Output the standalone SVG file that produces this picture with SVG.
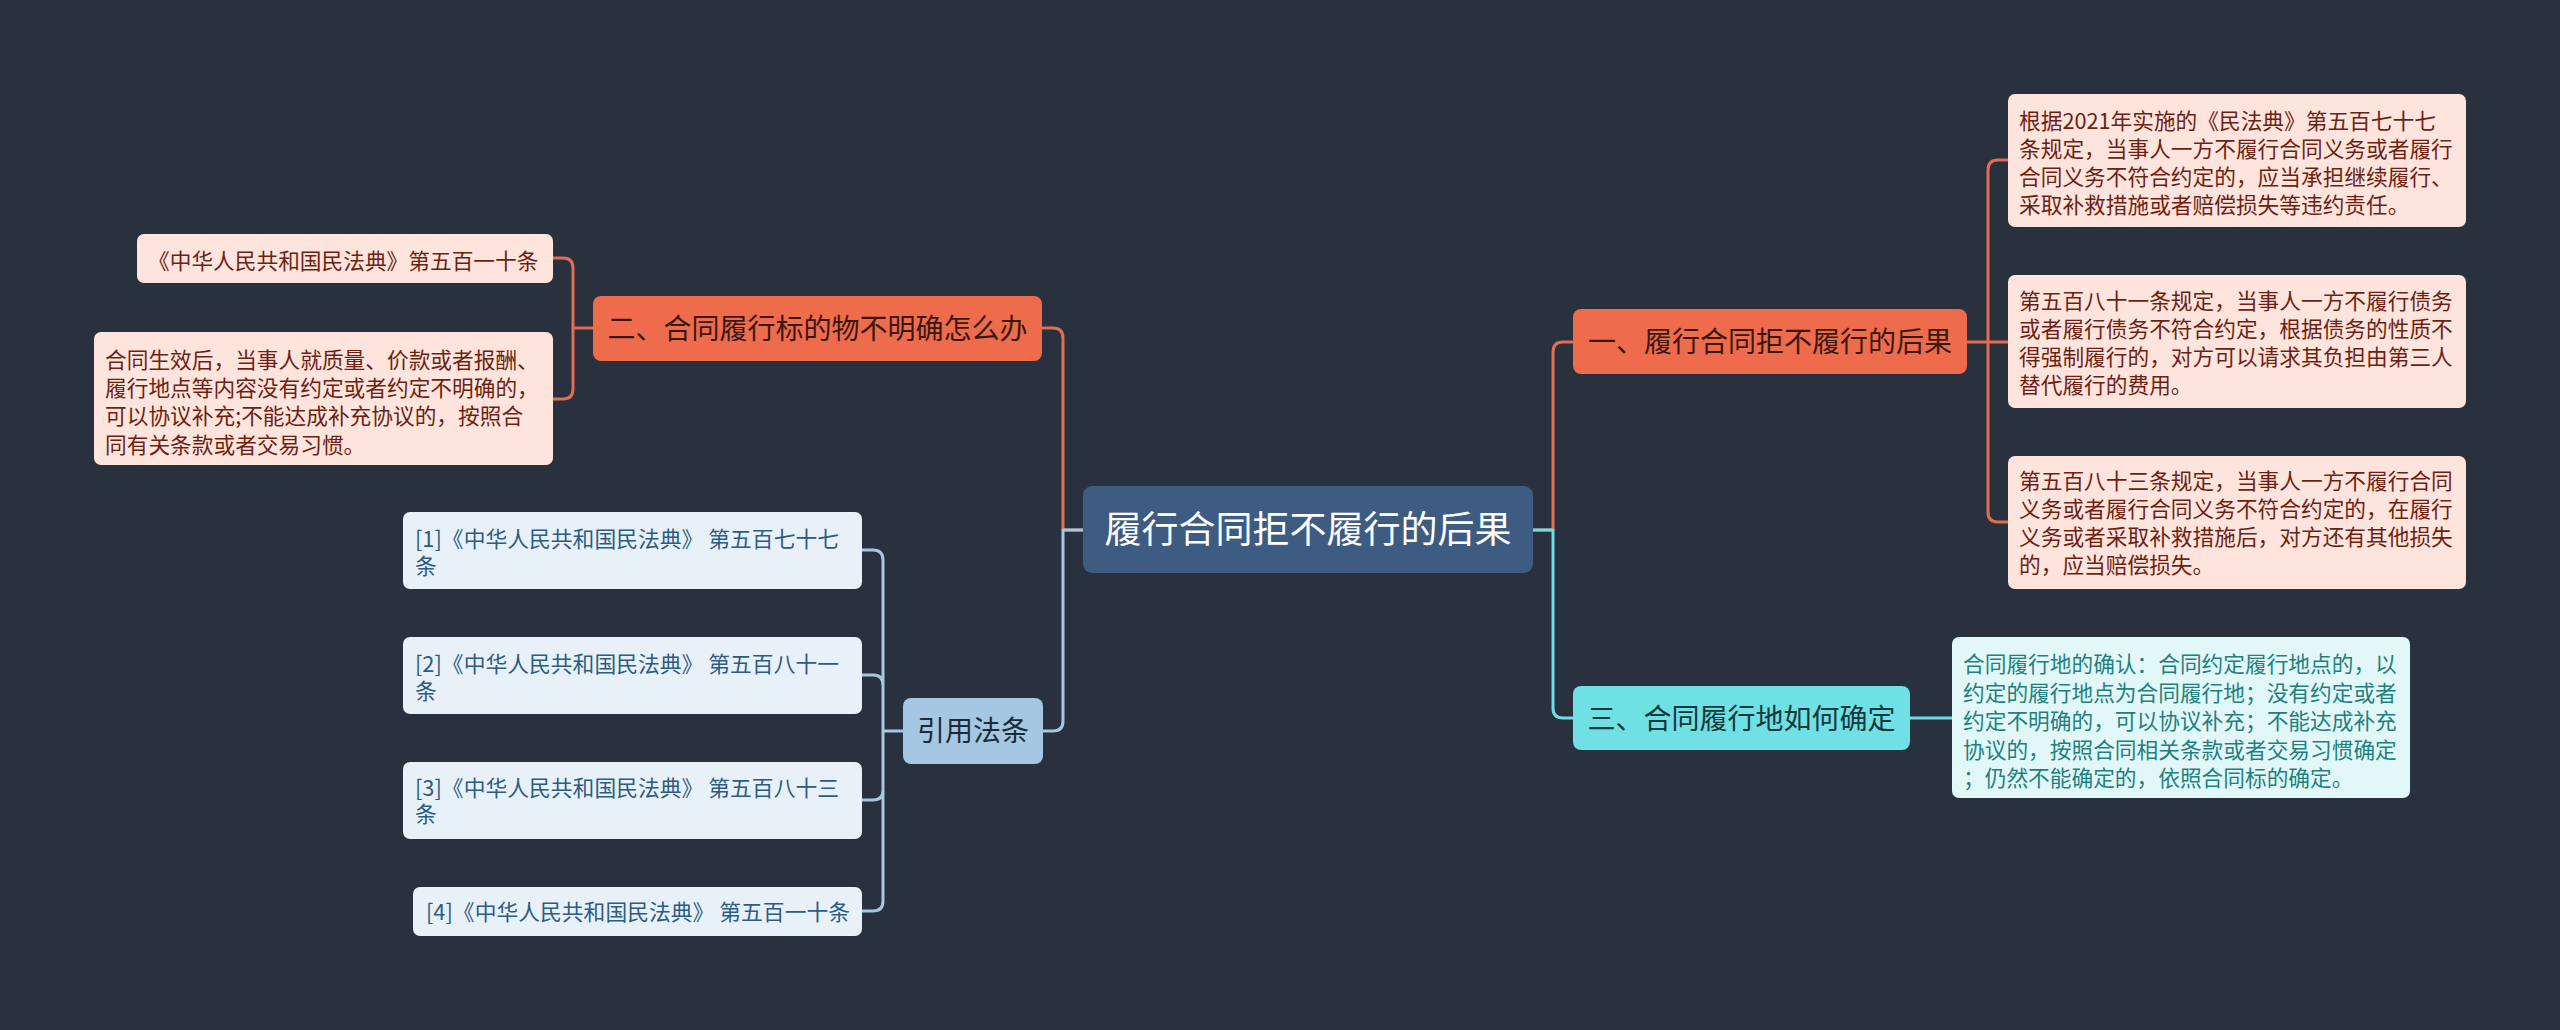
<svg xmlns="http://www.w3.org/2000/svg" width="2560" height="1030" viewBox="0 0 2560 1030">
<style>
text{font-family:"Noto Sans CJK SC","Noto Sans",sans-serif}
.c{fill:none;stroke-width:3;stroke-linecap:round;stroke-linejoin:round}
.co{stroke:#e46c52}.cc{stroke:#6ddfe4}.cb{stroke:#a4c7e2}
.root rect{fill:#3e5b82}.root text{fill:#fff;font-size:37px}
.or rect{fill:#ee6b4c}.or text{fill:#3a1810;font-size:28px}
.cy rect{fill:#6fe0e4}.cy text{fill:#15383b;font-size:28px}
.lb rect{fill:#a5c7e1}.lb text{fill:#1c2b3a;font-size:28px}
.pk rect{fill:#fde4dd}.pk text{fill:#6e1f12;font-size:21.7px}
.lc rect{fill:#e2f8f8}.lc text{fill:#1e8080;font-size:21.7px}
.rf rect{fill:#e9f1f8}.rf text{fill:#2c5c84;font-size:21.8px}
</style>
<rect width="2560" height="1030" fill="#29313f"/>
<g id="connectors">
<path class="c co" d="M1533 530H1553V352Q1553 342 1563 342H1573"/>
<path class="c cc" d="M1533 530H1553V708Q1553 718 1563 718H1573"/>
<path class="c co" d="M1967 342H2008M1988 342V170Q1988 160 1998 160H2008M1988 342V512Q1988 522 1998 522H2008"/>
<path class="c cc" d="M1910 718H1952"/>
<path class="c co" d="M1083 530H1063V338Q1063 328 1053 328H1042"/>
<path class="c cb" d="M1083 530H1063V721Q1063 731 1053 731H1043"/>
<path class="c co" d="M593 328H573V268Q573 258 563 258H553M573 328V389Q573 399 563 399H553"/>
<path class="c cb" d="M903 731H883M883 731V560Q883 550 873 550H862M883 731V685Q883 675 873 675H862M883 731V790Q883 800 873 800H862M883 731V901Q883 911 873 911H862"/>
</g>
<g id="root" class="root"><rect x="1083" y="486" width="450" height="87" rx="9"/><text x="1308" y="543" text-anchor="middle">履行合同拒不履行的后果</text></g>
<g id="n1" class="or"><rect x="1573" y="309" width="394" height="65" rx="8"/><text x="1770" y="352" text-anchor="middle">一、履行合同拒不履行的后果</text></g>
<g id="n2" class="or"><rect x="593" y="296" width="449" height="65" rx="8"/><text x="817.5" y="339" text-anchor="middle">二、合同履行标的物不明确怎么办</text></g>
<g id="n3" class="cy"><rect x="1573" y="686" width="337" height="64" rx="8"/><text x="1741.5" y="729" text-anchor="middle">三、合同履行地如何确定</text></g>
<g id="n4" class="lb"><rect x="903" y="698" width="140" height="66" rx="8"/><text x="973" y="741" text-anchor="middle">引用法条</text></g>
<g id="n1a" class="pk"><rect x="2008" y="94" width="458" height="133" rx="7"/><text x="2019"><tspan x="2019" y="129">根据2021年实施的《民法典》第五百七十七</tspan><tspan x="2019" y="157">条规定，当事人一方不履行合同义务或者履行</tspan><tspan x="2019" y="185">合同义务不符合约定的，应当承担继续履行、</tspan><tspan x="2019" y="213">采取补救措施或者赔偿损失等违约责任。</tspan></text></g>
<g id="n1b" class="pk"><rect x="2008" y="275" width="458" height="133" rx="7"/><text x="2019"><tspan x="2019" y="309">第五百八十一条规定，当事人一方不履行债务</tspan><tspan x="2019" y="337">或者履行债务不符合约定，根据债务的性质不</tspan><tspan x="2019" y="365">得强制履行的，对方可以请求其负担由第三人</tspan><tspan x="2019" y="393">替代履行的费用。</tspan></text></g>
<g id="n1c" class="pk"><rect x="2008" y="456" width="458" height="133" rx="7"/><text x="2019"><tspan x="2019" y="489">第五百八十三条规定，当事人一方不履行合同</tspan><tspan x="2019" y="517">义务或者履行合同义务不符合约定的，在履行</tspan><tspan x="2019" y="545">义务或者采取补救措施后，对方还有其他损失</tspan><tspan x="2019" y="573">的，应当赔偿损失。</tspan></text></g>
<g id="n3a" class="lc"><rect x="1952" y="637" width="458" height="161" rx="7"/><text x="1963"><tspan x="1963" y="672">合同履行地的确认：合同约定履行地点的，以</tspan><tspan x="1963" y="700.5">约定的履行地点为合同履行地；没有约定或者</tspan><tspan x="1963" y="729">约定不明确的，可以协议补充；不能达成补充</tspan><tspan x="1963" y="757.5">协议的，按照合同相关条款或者交易习惯确定</tspan><tspan x="1963" y="786">；仍然不能确定的，依照合同标的确定。</tspan></text></g>
<g id="n2a" class="pk"><rect x="137" y="234" width="416" height="49" rx="7"/><text x="148" y="269">《中华人民共和国民法典》第五百一十条</text></g>
<g id="n2b" class="pk"><rect x="94" y="332" width="459" height="133" rx="7"/><text x="105"><tspan x="105" y="367.5">合同生效后，当事人就质量、价款或者报酬、</tspan><tspan x="105" y="396">履行地点等内容没有约定或者约定不明确的，</tspan><tspan x="105" y="424">可以协议补充;不能达成补充协议的，按照合</tspan><tspan x="105" y="452.5">同有关条款或者交易习惯。</tspan></text></g>
<g id="r1" class="rf"><rect x="403" y="512" width="459" height="77" rx="7"/><text x="415"><tspan x="415" y="547">[1]《中华人民共和国民法典》 第五百七十七</tspan><tspan x="415" y="574">条</tspan></text></g>
<g id="r2" class="rf"><rect x="403" y="637" width="459" height="77" rx="7"/><text x="415"><tspan x="415" y="672">[2]《中华人民共和国民法典》 第五百八十一</tspan><tspan x="415" y="699">条</tspan></text></g>
<g id="r3" class="rf"><rect x="403" y="762" width="459" height="77" rx="7"/><text x="415"><tspan x="415" y="796">[3]《中华人民共和国民法典》 第五百八十三</tspan><tspan x="415" y="822">条</tspan></text></g>
<g id="r4" class="rf"><rect x="413" y="887" width="449" height="49" rx="7"/><text x="426" y="920">[4]《中华人民共和国民法典》 第五百一十条</text></g>
</svg>
